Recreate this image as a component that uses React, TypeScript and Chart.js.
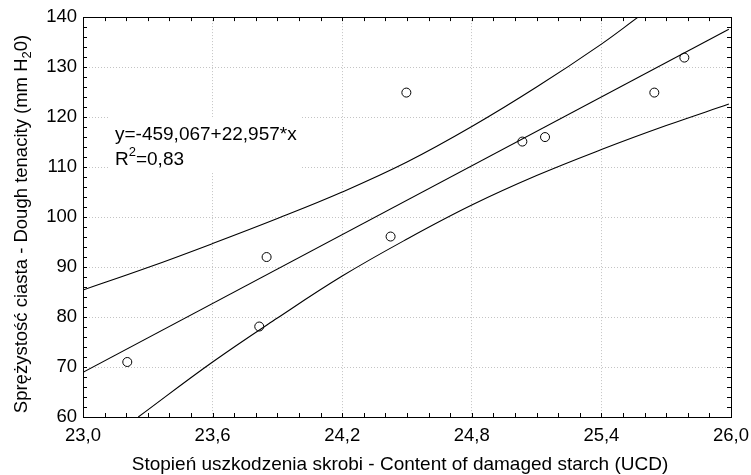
import React, { useEffect, useRef } from 'react';
import { Chart, registerables } from 'chart.js';
Chart.register(...registerables);

// Observed points
const pointX = [23.205, 23.816, 23.85, 24.424, 24.497, 25.034, 25.139, 25.645, 25.784];
const pointY = [71.0, 78.1, 92.0, 96.1, 124.9, 115.1, 116.0, 124.9, 131.9];
// Regression line (end points)
const fitX = [23.0, 25.99];
const fitY = [68.94, 137.59];
// Upper confidence band
const upperX = [23.0, 23.3, 23.6, 23.9, 24.2, 24.5, 24.8, 25.1, 25.4, 25.57];
const upperY = [85.4, 89.9, 94.7, 99.7, 105.0, 111.0, 118.1, 126.0, 134.6, 140.0];
// Lower confidence band
const lowerX = [23.256, 23.6, 23.9, 24.2, 24.5, 24.8, 25.1, 25.4, 25.7, 25.99];
const lowerY = [60.0, 71.0, 79.8, 88.2, 95.6, 102.4, 108.3, 113.5, 118.3, 122.6];

const xTickLabels = ['23,0', '23,6', '24,2', '24,8', '25,4', '26,0'];
const yTickLabels = ['60', '70', '80', '90', '100', '110', '120', '130', '140'];

const equationText = 'y=-459,067+22,957*x';
const r2Text = ['R', '2', '=0,83'];
const xTitle = 'Stopień uszkodzenia skrobi - Content of damaged starch (UCD)';
const yTitleParts = ['Sprężystość ciasta - Dough tenacity (mm H', '2', '0)'];

const FONT = '"Liberation Sans", Arial, sans-serif';

const toXY = (xs: number[], ys: number[]) => xs.map((x, i) => ({ x, y: ys[i] }));

const decorPlugin = {
  id: 'decor',
  beforeDatasetsDraw(chart: any) {
    const ctx = chart.ctx;
    ctx.save();
    ctx.fillStyle = '#ffffff';
    ctx.fillRect(108, 117, 194, 55);
    ctx.fillStyle = '#000000';
    ctx.font = `19px ${FONT}`;
    ctx.textBaseline = 'alphabetic';
    ctx.textAlign = 'left';
    ctx.fillText(equationText, 115, 140);
    let x = 115;
    ctx.fillText(r2Text[0], x, 165);
    x += ctx.measureText(r2Text[0]).width;
    ctx.font = `13px ${FONT}`;
    ctx.fillText(r2Text[1], x, 156);
    x += ctx.measureText(r2Text[1]).width;
    ctx.font = `19px ${FONT}`;
    ctx.fillText(r2Text[2], x, 165);
    ctx.restore();
  },
  afterDraw(chart: any) {
    const ctx = chart.ctx;
    const { left, right, top, bottom } = chart.chartArea;
    const xs = chart.scales.x;
    const ys = chart.scales.y;
    ctx.save();
    // inner ticks
    ctx.strokeStyle = '#000000';
    ctx.lineWidth = 1;
    ctx.beginPath();
    for (let k = 0; k <= 30; k++) {
      const px = Math.round(xs.getPixelForValue(23 + k * 0.1)) + 0.5;
      ctx.moveTo(px, bottom);
      ctx.lineTo(px, bottom - 4);
      ctx.moveTo(px, top);
      ctx.lineTo(px, top + 4);
    }
    for (let k = 0; k <= 40; k++) {
      const py = Math.round(ys.getPixelForValue(60 + k * 2)) + 0.5;
      ctx.moveTo(left, py);
      ctx.lineTo(left + 4, py);
      ctx.moveTo(right, py);
      ctx.lineTo(right - 4, py);
    }
    ctx.stroke();
    // frame
    ctx.strokeRect(Math.round(left) + 0.5, Math.round(top) + 0.5, Math.round(right - left), Math.round(bottom - top));
    // x title
    ctx.fillStyle = '#000000';
    ctx.font = `19px ${FONT}`;
    ctx.textAlign = 'center';
    ctx.textBaseline = 'alphabetic';
    ctx.fillText(xTitle, 400, 470);
    // y title with subscript
    ctx.translate(27, 224);
    ctx.rotate(-Math.PI / 2);
    ctx.textAlign = 'left';
    const bigFont = `18.5px ${FONT}`;
    const smallFont = `13px ${FONT}`;
    ctx.font = bigFont;
    const w0 = ctx.measureText(yTitleParts[0]).width;
    const w2 = ctx.measureText(yTitleParts[2]).width;
    ctx.font = smallFont;
    const w1 = ctx.measureText(yTitleParts[1]).width;
    let cx = -(w0 + w1 + w2) / 2;
    ctx.font = bigFont;
    ctx.fillText(yTitleParts[0], cx, 0);
    cx += w0;
    ctx.font = smallFont;
    ctx.fillText(yTitleParts[1], cx, 4);
    cx += w1;
    ctx.font = bigFont;
    ctx.fillText(yTitleParts[2], cx, 0);
    ctx.restore();
  },
};

export default function App() {
  const ref = useRef<HTMLCanvasElement | null>(null);
  useEffect(() => {
    if (!ref.current) return;
    const lineStyle = {
      type: 'line' as const,
      borderColor: '#000000',
      borderWidth: 1.1,
      pointRadius: 0,
      fill: false,
      tension: 0.4,
      showLine: true,
    };
    const chart = new Chart(ref.current, {
      type: 'scatter',
      data: {
        datasets: [
          { ...lineStyle, tension: 0, data: toXY(fitX, fitY) },
          { ...lineStyle, data: toXY(upperX, upperY) },
          { ...lineStyle, data: toXY(lowerX, lowerY) },
          {
            type: 'scatter',
            data: toXY(pointX, pointY),
            pointRadius: 4.5,
            pointBorderWidth: 1,
            pointBorderColor: '#000000',
            pointBackgroundColor: 'rgba(0,0,0,0)',
            showLine: false,
          },
        ],
      },
      options: {
        animation: false,
        responsive: false,
        devicePixelRatio: 1,
        layout: { padding: { top: 17, right: 0, left: 0, bottom: 0 } },
        plugins: { legend: { display: false }, tooltip: { enabled: false } },
        scales: {
          x: {
            type: 'linear',
            min: 23,
            max: 26,
            afterFit: (s: any) => { s.height = 58; s.paddingRight = 20; s.paddingLeft = 0; },
            ticks: {
              stepSize: 0.6,
              padding: 8,
              color: '#000000',
              font: { family: FONT, size: 18.5 },
              maxRotation: 0,
              autoSkip: false,
              callback: (_v: any, i: number) => xTickLabels[i],
            },
            grid: { color: '#c4c4c4', lineWidth: 1, drawTicks: false },
            border: { display: false, dash: [1, 2] },
          },
          y: {
            type: 'linear',
            min: 60,
            max: 140,
            afterFit: (s: any) => { s.width = 83; },
            ticks: {
              stepSize: 10,
              padding: 6,
              color: '#000000',
              font: { family: FONT, size: 18.5 },
              callback: (_v: any, i: number) => yTickLabels[i],
            },
            grid: { color: '#c4c4c4', lineWidth: 1, drawTicks: false },
            border: { display: false, dash: [1, 2] },
          },
        },
      },
      plugins: [decorPlugin],
    });
    return () => chart.destroy();
  }, []);
  return (
    <div style={{ position: 'absolute', left: 0, top: 0, width: 751, height: 475, background: '#ffffff' }}>
      <canvas ref={ref} width={751} height={475} style={{ display: 'block' }} />
    </div>
  );
}
